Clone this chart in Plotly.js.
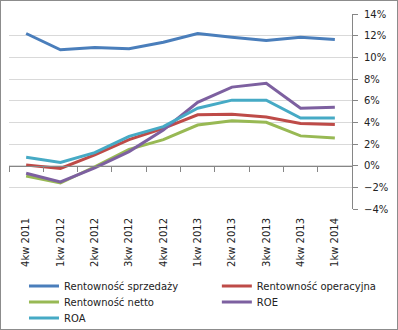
<!DOCTYPE html>
<html><head><meta charset="utf-8">
<script src="https://cdn.plot.ly/plotly-3.0.1.min.js"></script>
<style>body{margin:0;padding:0;background:#fff}#c{width:396px;height:328px;border:1px solid #8c8c8c}</style>
</head><body><div id="c"></div>
<script>
const categories = ['4kw 2011','1kw 2012','2kw 2012','3kw 2012','4kw 2012','1kw 2013','2kw 2013','3kw 2013','4kw 2013','1kw 2014'];
const sprzedazy = [12.2, 10.7, 10.9, 10.8, 11.4, 12.2, 11.85, 11.55, 11.85, 11.65];
const operacyjna = [0.07, -0.25, 1.0, 2.4, 3.45, 4.7, 4.75, 4.5, 3.9, 3.8];
const netto = [-0.95, -1.6, -0.1, 1.5, 2.4, 3.75, 4.15, 4.0, 2.75, 2.55];
const roe = [-0.7, -1.5, -0.2, 1.3, 3.3, 5.85, 7.25, 7.6, 5.3, 5.4];
const roa = [0.77, 0.3, 1.2, 2.7, 3.6, 5.3, 6.05, 6.05, 4.4, 4.4];
const names = ['Rentowność sprzedaży','Rentowność operacyjna','Rentowność netto','ROE','ROA'];
const colors = ['#4a7ebb','#be4b48','#98b954','#7d60a0','#46aac5'];
const series = [sprzedazy, operacyjna, netto, roe, roa];
const legendIds = ['legend','legend2','legend3','legend4','legend5'];
const traces = series.map((s,i)=>({
  type:'scatter', mode:'lines', x:categories, y:s, name:names[i], legend:legendIds[i],
  line:{color:colors[i], width:3}, xaxis: i===4 ? 'x2':'x', yaxis:'y', hoverinfo:'skip'
}));
const font = {family:'DejaVu Sans, sans-serif', size:10, color:'#222'};
const lx = [0.0437, 0.606, 0.0437, 0.606, 0.0437];
const ly = [-0.395, -0.395, -0.477, -0.477, -0.559];
const layout = {
  width:396, height:328, margin:{l:8, r:45, t:13, b:120, autoexpand:false},
  paper_bgcolor:'#fff', plot_bgcolor:'#fff', font:font, showlegend:true,
  xaxis:{type:'category', categoryarray:categories, range:[-0.5,9.5], showgrid:false, zeroline:false,
    showline:false, ticks:'', tickangle:-90, tickfont:font, fixedrange:true, automargin:false, ticklabelstandoff:6},
  xaxis2:{type:'category', categoryarray:categories, range:[-0.5,9.5], overlaying:'x', anchor:'free', position:4/18,
    showline:true, linecolor:'#868686', linewidth:1, ticks:'outside', ticklen:5, tickcolor:'#868686', tickson:'boundaries',
    showticklabels:false, showgrid:false, zeroline:false, automargin:false},
  yaxis:{side:'right', range:[-4,14], dtick:2, ticksuffix:'%', showgrid:true, gridcolor:'#d9d9d9', gridwidth:1,
    zeroline:false, showline:true, linecolor:'#868686', ticks:'outside', ticklen:5, tickcolor:'#868686',
    tickfont:font, automargin:false, ticklabelstandoff:4}
};
legendIds.forEach((id,i)=>{
  layout[id] = {orientation:'v', x:lx[i], y:ly[i], xanchor:'left', yanchor:'middle', font:font,
    bgcolor:'rgba(0,0,0,0)', itemwidth:30, tracegroupgap:0};
});
Plotly.newPlot('c', traces, layout, {displayModeBar:false, staticPlot:true});
</script></body></html>
